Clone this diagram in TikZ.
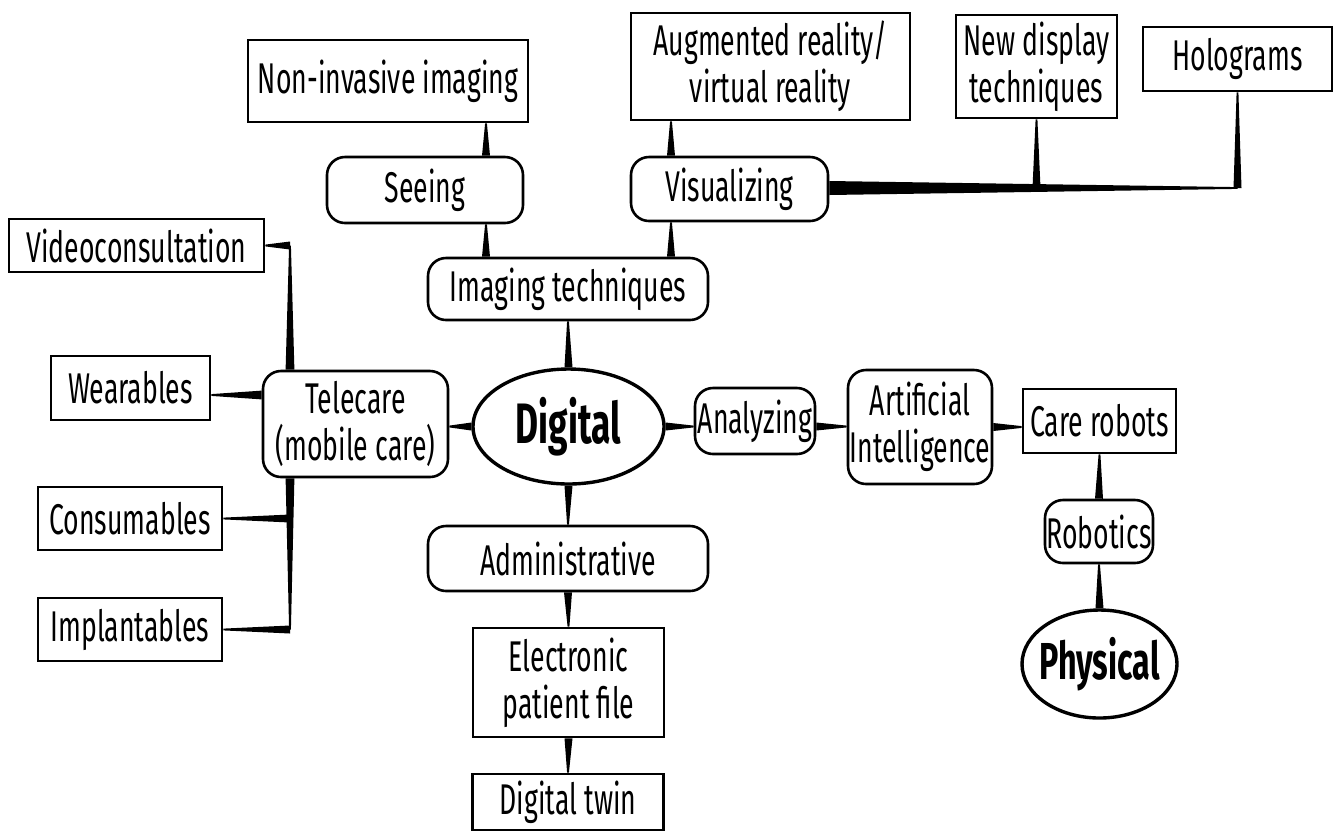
\documentclass[tikz,border=0pt]{standalone}
\usepackage{fontspec}
\setmainfont[FakeStretch=0.62]{Fira Sans}
\usetikzlibrary{calc,shapes.geometric}

\newcommand{\labelfont}{\fontsize{21.5}{23.5}\selectfont}
\newcommand{\hubfont}{\fontsize{28.5}{30}\selectfont\bfseries}
\newcommand{\hubtext}[1]{\makebox[0pt][c]{#1}}
% tapered connector: wide at the first point, thin at the second
\newcommand{\taper}[3][2pt]{%
  \fill ($#2!#1!90:#3$) -- ($#2!#1!-90:#3$) -- ($#3!0.45pt!90:#2$) -- ($#3!0.45pt!-90:#2$) -- cycle;}

\tikzset{
  leaf/.style={draw, line width=1.3pt, rectangle, inner sep=0pt, font=\labelfont, align=center},
  topic/.style={leaf, rounded corners=9pt},
  hub/.style={draw, line width=1.7pt, ellipse, inner sep=0pt, font=\hubfont},
}

\begin{document}
\begin{tikzpicture}[x=0.5pt,y=-0.5pt]
  \useasboundingbox (0,0) rectangle (1333,832);

  % centre and branches
  \node[hub, minimum width=95.5pt, minimum height=57.5pt] (digital) at (568.5,426.5) {\hubtext{Digital}};
  \node[topic, minimum width=140pt, minimum height=31pt] (imaging) at (568,289) {Imaging techniques};
  \node[topic, minimum width=98pt, minimum height=33pt] (seeing) at (425,190) {Seeing};
  \node[topic, minimum width=98.5pt, minimum height=32pt] (visual) at (729.5,189) {Visualizing};
  \node[leaf, minimum width=140pt, minimum height=41pt] (noninv) at (388,81) {Non-invasive imaging};
  \node[leaf, minimum width=139.5pt, minimum height=53.5pt] (augvr) at (770.5,66.5) {Augmented reality/\\virtual reality};
  \node[leaf, minimum width=80.5pt, minimum height=51.5pt] (newdisp) at (1036.5,66.5) {New display\\techniques};
  \node[leaf, minimum width=94.5pt, minimum height=32pt] (holo) at (1237.5,59) {Holograms};

  \node[topic, minimum width=92.5pt, minimum height=53pt] (telecare) at (355.5,424) {Telecare\\(mobile care)};
  \node[leaf, minimum width=127.5pt, minimum height=26.5pt] (video) at (136.5,245.5) {Videoconsultation};
  \node[leaf, minimum width=79.5pt, minimum height=32pt] (wear) at (130.5,388) {Wearables};
  \node[leaf, minimum width=92pt, minimum height=31.5pt] (cons) at (130,518.5) {Consumables};
  \node[leaf, minimum width=92pt, minimum height=31.5pt] (impl) at (130,629.5) {Implantables};

  \node[topic, minimum width=140pt, minimum height=32.5pt] (admin) at (568,558.5) {Administrative};
  \node[leaf, minimum width=95.5pt, minimum height=54.5pt] (epf) at (568.5,682.5) {Electronic\\patient file};
  \node[leaf, minimum width=95.5pt, minimum height=28pt] (twin) at (568,802) {Digital twin};

  \node[topic, minimum width=60pt, minimum height=33pt] (analyzing) at (755,421) {Analyzing};
  \node[topic, minimum width=72pt, minimum height=57pt] (ai) at (920,427) {Artificial\\Intelligence};
  \node[leaf, minimum width=76.5pt, minimum height=32pt] (care) at (1099.5,421) {Care robots};
  \node[topic, minimum width=54pt, minimum height=31.5pt] (robotics) at (1099,531.5) {Robotics};
  \node[hub, minimum width=77.5pt, minimum height=54pt, font=\fontsize{26}{28}\selectfont\bfseries] (physical) at (1099.5,664) {\hubtext{Physical}};

  % columns and rows of the connectors
  \coordinate (colSee) at (486,0);
  \coordinate (colVis) at (671,0);
  \coordinate (colTele) at (290,0);
  \coordinate (rowVis) at (0,188);
  \coordinate (rowWear) at (0,395);

  % connectors
  \taper{(digital.north)}{(imaging.south)}
  \taper{(imaging.north -| colSee)}{(seeing.south -| colSee)}
  \taper{(seeing.north -| colSee)}{(noninv.south -| colSee)}
  \taper{(imaging.north -| colVis)}{(visual.south -| colVis)}
  \taper{(visual.north -| colVis)}{(augvr.south -| colVis)}
  \taper[3.5pt]{(visual.east |- rowVis)}{(holo.south |- rowVis)}
  \taper{(newdisp.south |- rowVis)}{(newdisp.south)}
  \taper{(holo.south |- rowVis)}{(holo.south)}

  \taper{(digital.west)}{(telecare.east |- digital.west)}
  \taper[2.2pt]{(telecare.west |- rowWear)}{(wear.east |- rowWear)}
  \taper[2.2pt]{(telecare.north -| colTele)}{(colTele |- video.east)}
  \taper{(colTele |- video.east)}{(video.east)}
  \taper[2.2pt]{(telecare.south -| colTele)}{(colTele |- impl.east)}
  \taper{(colTele |- cons.east)}{(cons.east)}
  \taper{(colTele |- impl.east)}{(impl.east)}

  \taper{(digital.south)}{(admin.north)}
  \taper{(admin.south)}{(epf.north)}
  \taper{(epf.south)}{(twin.north)}

  \taper{(digital.east)}{(analyzing.west |- digital.east)}
  \taper{(analyzing.east |- digital.east)}{(ai.west |- digital.east)}
  \taper{(ai.east)}{(care.west |- ai.east)}
  \taper{(physical.north)}{(robotics.south)}
  \taper{(robotics.north)}{(care.south)}
\end{tikzpicture}
\end{document}
